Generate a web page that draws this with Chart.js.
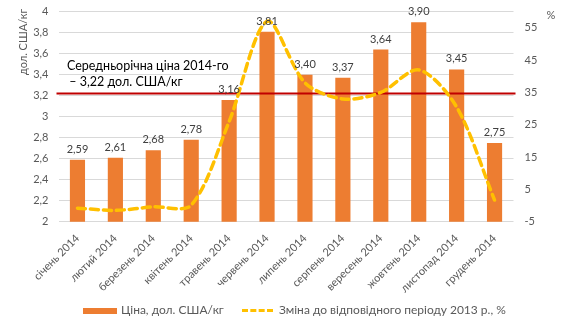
<!DOCTYPE html>
<html>
<head>
<meta charset="utf-8">
<script src="https://cdn.jsdelivr.net/npm/chart.js@4.4.0/dist/chart.umd.min.js"></script>
<style>
    html, body { margin: 0; padding: 0; background: #fff; }
    #wrap { position: relative; width: 570px; height: 334px; }
    #legend {
        position: absolute; left: 0; top: 302px; width: 570px;
        font: 12px Lato, sans-serif; color: #595959;
    }
    .item { position: absolute; top: 0; white-space: nowrap; line-height: 16px; }
    .swatch-bar { display: inline-block; width: 34px; height: 6px; background: #ED7D31; vertical-align: middle; margin-right: 4px; }
    .swatch-line { display: inline-block; width: 31px; height: 0; border-top: 3px dashed #FFC000; vertical-align: middle; margin-right: 6px; }
</style>
</head>
<body>
<div id="wrap">
    <canvas id="priceChart" width="570" height="334"></canvas>
    <div id="legend">
        <div class="item" style="left:83px"><span class="swatch-bar"></span>Ціна, дол. США/кг</div>
        <div class="item" style="left:242px"><span class="swatch-line"></span>Зміна до відповідного періоду 2013 р., %</div>
    </div>
</div>
<script>
// --- Data ---

const months = ['січень 2014', 'лютий 2014', 'березень 2014', 'квітень 2014', 'травень 2014', 'червень 2014',
    'липень 2014', 'серпень 2014', 'вересень 2014', 'жовтень 2014', 'листопад 2014', 'грудень 2014'];
const prices = [2.59, 2.61, 2.68, 2.78, 3.16, 3.81, 3.40, 3.37, 3.64, 3.90, 3.45, 2.75];
const changePct = [-0.8, -1.5, -0.4, 0.1, 26, 57, 38, 33, 35, 42, 30.5, 1.7];
const avgPrice = 3.22;
const avgText = ['Середньорічна ціна 2014-го', ' – 3,22 дол. США/кг'];
const pctTicks = [-5, 5, 15, 25, 35, 45, 55];

const FONT = 'Lato, sans-serif';
const fmtTick = v => Number(v.toFixed(2)).toString().replace('.', ',');
const fmtPrice = v => v.toFixed(2).replace('.', ',');

// --- Extra drawing: average line, value labels, axis captions ---

const decorations = {
    id: 'decorations',
    afterDatasetDraw(chart, args) {
        if (args.index !== 0) return;
        const ctx = chart.ctx;
        const y = chart.scales.y.getPixelForValue(avgPrice);
        ctx.save();
        ctx.strokeStyle = '#C00000';
        ctx.lineWidth = 2;
        ctx.beginPath();
        ctx.moveTo(chart.chartArea.left - 2, y);
        ctx.lineTo(chart.chartArea.right + 2, y);
        ctx.stroke();
        ctx.restore();
    },
    afterDraw(chart) {
        const ctx = chart.ctx;
        ctx.save();
        // value labels over bars
        ctx.font = '11px ' + FONT;
        ctx.fillStyle = '#404040';
        ctx.textAlign = 'center';
        ctx.textBaseline = 'bottom';
        chart.getDatasetMeta(0).data.forEach((bar, i) => {
            ctx.fillText(fmtPrice(prices[i]), bar.x, bar.y - 5);
        });
        // average annotation
        ctx.font = '12.5px ' + FONT;
        ctx.fillStyle = '#000';
        ctx.textAlign = 'left';
        ctx.textBaseline = 'middle';
        ctx.fillText(avgText[0], 67, 66);
        ctx.fillText(avgText[1], 66, 82);
        // axis captions
        ctx.font = '11px ' + FONT;
        ctx.fillStyle = '#595959';
        ctx.textAlign = 'center';
        ctx.fillText('%', 551, 15);
        ctx.translate(23, 42);
        ctx.rotate(-Math.PI / 2);
        ctx.fillText('дол. США/кг', 0, 0);
        ctx.restore();
    }
};

// --- Chart ---

const ctx = document.getElementById('priceChart').getContext('2d');
new Chart(ctx, {
    data: {
        labels: months,
        datasets: [{
            type: 'bar',
            label: 'Ціна, дол. США/кг',
            data: prices,
            backgroundColor: '#ED7D31',
            barPercentage: 0.4,
            categoryPercentage: 1,
            yAxisID: 'y',
            order: 1
        }, {
            type: 'line',
            label: 'Зміна до відповідного періоду 2013 р., %',
            data: changePct,
            borderColor: '#FFC000',
            borderWidth: 3.5,
            borderDash: [8, 5],
            borderCapStyle: 'round',
            pointRadius: 0,
            tension: 0.3,
            fill: false,
            yAxisID: 'y1',
            order: 0
        }]
    },
    options: {
        responsive: false,
        animation: false,
        layout: { padding: { top: 11.7, left: 0, right: 0, bottom: 0 } },
        plugins: {
            legend: { display: false },
            tooltip: { enabled: false }
        },
        scales: {
            x: {
                grid: { display: false },
                border: { display: false },
                ticks: {
                    color: '#595959',
                    font: { family: FONT, size: 11 },
                    minRotation: 45,
                    maxRotation: 45,
                    autoSkip: false,
                    padding: 2
                },
                afterFit(scale) { scale.height = 112.3; }
            },
            y: {
                position: 'left',
                min: 2,
                max: 4,
                ticks: {
                    stepSize: 0.2,
                    color: '#595959',
                    font: { family: FONT, size: 11 },
                    padding: 0,
                    callback: v => fmtTick(v)
                },
                // invisible tick marks keep the labels clear of the plot
                grid: { color: '#D9D9D9', drawTicks: true, tickLength: 10, tickColor: 'rgba(0,0,0,0)' },
                border: { display: false },
                afterFit(scale) { scale.width = 58.5; }
            },
            y1: {
                position: 'right',
                min: -5,
                max: 60,
                afterBuildTicks(scale) { scale.ticks = pctTicks.map(v => ({ value: v })); },
                ticks: {
                    color: '#595959',
                    font: { family: FONT, size: 11 },
                    padding: 0
                },
                grid: { display: false, drawTicks: true, tickLength: 11 },
                border: { display: false },
                afterFit(scale) { scale.width = 56.5; }
            }
        }
    },
    plugins: [decorations]
});
</script>
</body>
</html>
